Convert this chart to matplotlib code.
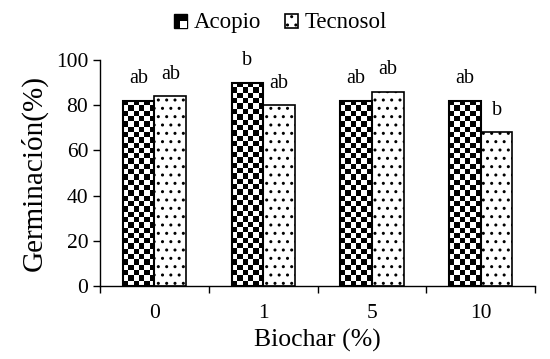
import numpy as np
import matplotlib
matplotlib.use("Agg")
import matplotlib.pyplot as plt
from matplotlib.patches import Rectangle
from matplotlib.legend_handler import HandlerBase

plt.rcParams['font.family'] = ['Liberation Serif', 'DejaVu Serif']
plt.rcParams['hatch.linewidth'] = 1.0

# Data
categories = ["0", "1", "5", "10"]
acopio = [82, 90, 82, 82]
tecnosol = [84, 80, 86, 68]
acopio_letters = ["ab", "b", "ab", "ab"]
tecnosol_letters = ["ab", "ab", "ab", "b"]


class CheckerHandler(HandlerBase):
    def create_artists(self, legend, orig_handle, xdescent, ydescent,
                       width, height, fontsize, trans):
        s = height * 0.85
        x0 = -xdescent + (width - s) / 2
        y0 = -ydescent
        arts = [Rectangle((x0, y0), s, s, facecolor="black", edgecolor="black", lw=1)]
        arts.append(Rectangle((x0 + s / 2, y0), s / 2, s / 2, facecolor="white", edgecolor="none"))
        for a in arts:
            a.set_transform(trans)
        return arts


class DotHandler(HandlerBase):
    def create_artists(self, legend, orig_handle, xdescent, ydescent,
                       width, height, fontsize, trans):
        s = height * 0.85
        x0 = -xdescent + (width - s) / 2
        y0 = -ydescent
        r = Rectangle((x0, y0), s, s, facecolor="white", edgecolor="black", lw=1.2, hatch="..")
        r.set_transform(trans)
        return [r]


fig = plt.figure(figsize=(5.5, 3.59), dpi=100)
ax = fig.add_axes([0.182, 0.203, 0.791, 0.630])

x = np.arange(len(categories))
w = 0.29

bars_a = ax.bar(x - w / 2, acopio, w, facecolor="white", edgecolor="none", zorder=2)
bars_t = ax.bar(x + w / 2, tecnosol, w, facecolor="white", edgecolor="black", lw=1.2,
                hatch="..", zorder=2)

# checkerboard fill for Acopio bars
ncol = 6
for b in bars_a:
    bx, by = b.get_x(), b.get_y()
    bw, bh = b.get_width(), b.get_height()
    nrow = int(round(bh / 100 * 226 / 5.3))
    checker = (np.indices((nrow, ncol)).sum(axis=0) % 2).astype(float)
    im = ax.imshow(checker, cmap="gray", extent=(bx, bx + bw, by, by + bh),
                   origin="lower", interpolation="nearest", aspect="auto", zorder=2.5)
    im.set_clip_path(b)
# outline on top
ax.bar(x - w / 2, acopio, w, facecolor="none", edgecolor="black", lw=1.5, zorder=3)

for i in range(len(categories)):
    ax.text(x[i] - w / 2, acopio[i] + 5.5, acopio_letters[i], ha="center", va="bottom",
            fontsize=14.5, clip_on=False)
    ax.text(x[i] + w / 2, tecnosol[i] + 5.5, tecnosol_letters[i], ha="center", va="bottom",
            fontsize=14.5, clip_on=False)

ax.set_xlim(-0.5, len(categories) - 0.5)
ax.set_ylim(0, 100)
ax.set_yticks(np.arange(0, 101, 20))
ax.set_xticks(x)
ax.set_xticklabels(categories)
ax.set_xticks(np.arange(-0.5, len(categories), 1), minor=True)
ax.tick_params(axis="x", which="major", length=0, pad=13, labelsize=15.5)
ax.tick_params(axis="x", which="minor", length=5, direction="out", width=1)
ax.tick_params(axis="y", length=5, direction="out", width=1, labelsize=15.5)
for s in ["top", "right"]:
    ax.spines[s].set_visible(False)
for s in ["left", "bottom"]:
    ax.spines[s].set_linewidth(1)

ax.set_xlabel("Biochar (%)", fontsize=18.5, labelpad=4)
ax.set_ylabel("Germinación(%)", fontsize=21, labelpad=6)

h1 = Rectangle((0, 0), 1, 1)
h2 = Rectangle((0, 0), 1, 1)
fig.legend([h1, h2], ["Acopio", "Tecnosol"], loc="upper center", bbox_to_anchor=(0.51, 1.025),
           ncol=2, frameon=False, fontsize=16.5, handlelength=0.6, handletextpad=0.3,
           columnspacing=1.0, handler_map={h1: CheckerHandler(), h2: DotHandler()})

fig.savefig("out.png", dpi=100)
